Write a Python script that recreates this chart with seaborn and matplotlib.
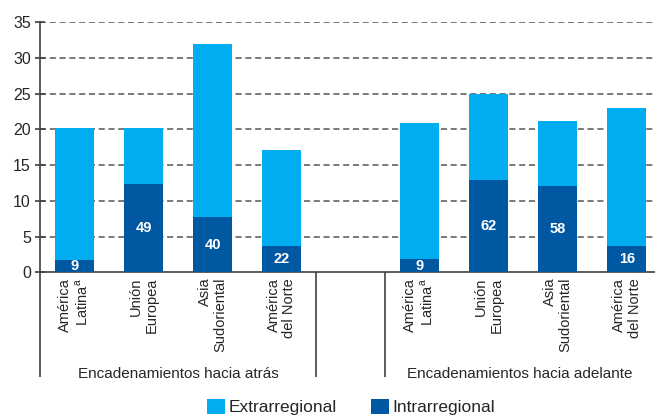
import matplotlib
matplotlib.use("Agg")
import matplotlib.pyplot as plt
import matplotlib.transforms as mtransforms
from matplotlib.patches import Patch
import seaborn as sns
import pandas as pd

# Data: export value shares by region and linkage type
groups = ["Encadenamientos hacia atrás", "Encadenamientos hacia adelante"]
regions = ["América\nLatina$^{\\mathrm{a}}$", "Unión\nEuropea",
           "Asia\nSudoriental", "América\ndel Norte"]

intra_atras = [1.7, 12.4, 7.7, 3.7]
extra_atras = [18.5, 7.8, 24.3, 13.4]
pct_atras = [9, 49, 40, 22]

intra_adelante = [1.8, 12.9, 12.1, 3.7]
extra_adelante = [19.1, 12.1, 9.1, 19.3]
pct_adelante = [9, 62, 58, 16]

yticks = [0, 5, 10, 15, 20, 25, 30, 35]

LIGHT = "#00AEEF"
DARK = "#0057A2"
AXIS = "#404040"

sns.set_style("white")
plt.rcParams["font.family"] = ["Liberation Sans", "DejaVu Sans"]
plt.rcParams["mathtext.fontset"] = "custom"
plt.rcParams["mathtext.rm"] = "Liberation Sans"

rows = []
for g, intra, extra, pct in [("atras", intra_atras, extra_atras, pct_atras),
                             ("adelante", intra_adelante, extra_adelante, pct_adelante)]:
    for i, r in enumerate(regions):
        rows.append({"clave": f"{g}_{i}", "region": r, "intra": intra[i],
                     "extra": extra[i], "total": intra[i] + extra[i], "pct": pct[i]})
df = pd.DataFrame(rows)

order = [f"atras_{i}" for i in range(4)] + ["hueco"] + [f"adelante_{i}" for i in range(4)]

fig, ax = plt.subplots(figsize=(6.55, 4.16), dpi=100)
fig.subplots_adjust(left=40 / 655, right=1.0, bottom=1 - 272.3 / 416, top=1 - 22.3 / 416)

# dashed horizontal grid behind the bars
for y in yticks[1:]:
    ax.axhline(y, color="#555555", lw=1.1, ls=(0, (4.0, 2.4)), zorder=0)

sns.barplot(data=df, x="clave", y="total", order=order, color=LIGHT,
            saturation=1, width=0.565, ax=ax, zorder=2, linewidth=0, edgecolor="none")
sns.barplot(data=df, x="clave", y="intra", order=order, color=DARK,
            saturation=1, width=0.565, ax=ax, zorder=3, linewidth=0, edgecolor="none")

# share labels inside the intra-regional segment
for _, row in df.iterrows():
    xpos = order.index(row["clave"])
    ax.text(xpos, row["intra"] / 2, f"{row['pct']}", ha="center", va="center",
            color="white", fontsize=10.5, fontweight="bold", zorder=4)

ax.set_ylim(0, 35)
ax.set_xlim(-0.5, 8.41)
ax.set_yticks(yticks)
ax.set_xlabel("")
ax.set_ylabel("")

labels = []
for k in order:
    if k == "hueco":
        labels.append("")
    else:
        labels.append(df.loc[df["clave"] == k, "region"].iloc[0])
ax.set_xticks(range(len(order)))
ax.set_xticklabels(labels, rotation=90, ha="center", va="top",
                   multialignment="right", fontsize=10.5, linespacing=1.15)
ax.tick_params(axis="x", which="major", length=0, pad=4)
ax.set_xticks([0.5, 1.5, 2.5, 5.5, 6.5, 7.5], minor=True)
ax.tick_params(axis="x", which="minor", length=4.5, width=1.2, color=AXIS, direction="out")
ax.tick_params(axis="y", length=7, width=1.2, color=AXIS, direction="inout",
               labelsize=11.5, pad=3, left=True)

for s in ["top", "right"]:
    ax.spines[s].set_visible(False)
for s in ["left", "bottom"]:
    ax.spines[s].set_color(AXIS)
    ax.spines[s].set_linewidth(1.2)

# long separators below the category axis
trans = mtransforms.blended_transform_factory(ax.transData, ax.transAxes)
depth = -(377 - 272.3) / 250
for xs in [-0.5, 3.5, 4.5]:
    ax.plot([xs, xs], [0, depth], transform=trans, color=AXIS, lw=1.2,
            clip_on=False, solid_capstyle="butt")

ax.text(1.5, -0.405, groups[0], transform=trans, ha="center", va="center", fontsize=11)
ax.text((4.5 + 8.41) / 2, -0.405, groups[1], transform=trans, ha="center",
        va="center", fontsize=11)

handles = [Patch(facecolor=LIGHT, edgecolor="none", label="Extrarregional"),
           Patch(facecolor=DARK, edgecolor="none", label="Intrarregional")]
fig.legend(handles=handles, loc="center", bbox_to_anchor=(0.536, 1 - 407 / 416),
           ncol=2, frameon=False, fontsize=12.5, handlelength=1.0, handleheight=1.0,
           handletextpad=0.2, columnspacing=2.0, borderaxespad=0, borderpad=0)

fig.savefig("out.png", dpi=100)
